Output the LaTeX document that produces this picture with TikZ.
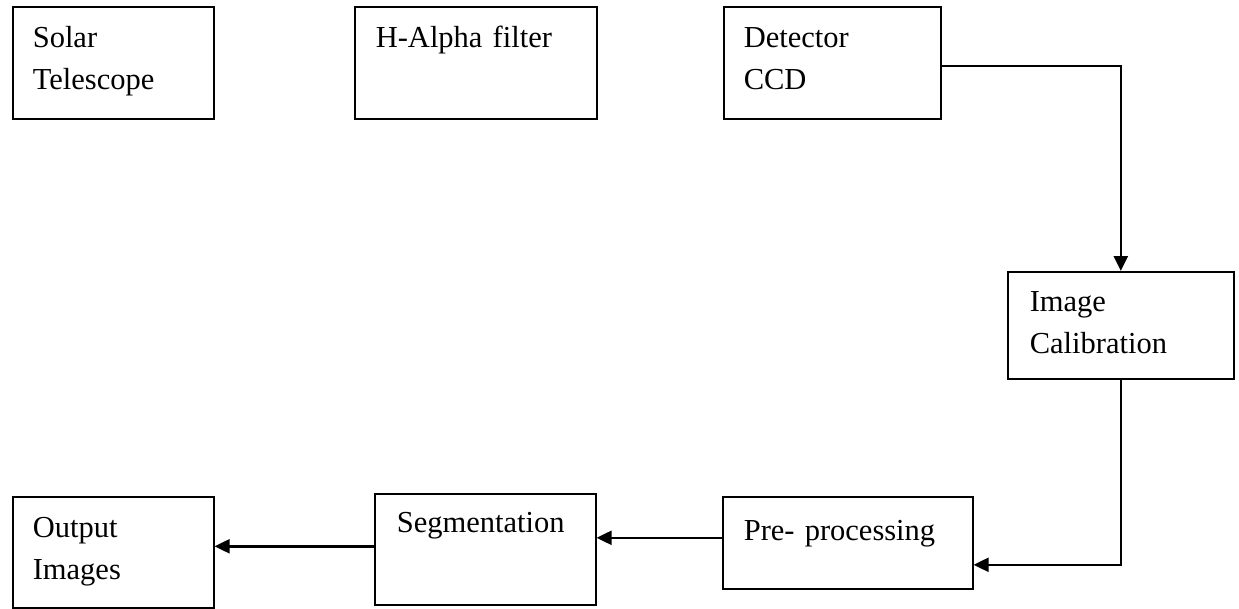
\documentclass[tikz,border=0pt]{standalone}
\usepackage{fontspec}
\setmainfont{Liberation Serif}
\usetikzlibrary{arrows.meta}
\begin{document}
\begin{tikzpicture}[x=1pt,y=-1pt,
    blk/.style={draw,line width=1.6pt,anchor=north west,align=left,
      inner ysep=0pt,font=\fontsize{30.5}{42}\selectfont},
    conn/.style={line width=2.4pt,-{Triangle[length=15pt,width=14pt]}}]
    \useasboundingbox (0,0) rectangle (1239,608);
    % top row
    \node[blk,inner xsep=20pt,text width=161pt,text height=41pt,text depth=71pt]
      (solar) at (12,6) {Solar\\Telescope};
    \node[blk,inner xsep=21pt,text width=200pt,text height=41pt,text depth=71pt]
      (halpha) at (354,6) {H-Alpha filter};
    \node[blk,inner xsep=20pt,text width=177pt,text height=41pt,text depth=71pt]
      (detector) at (723,6) {Detector\\CCD};
    % right column
    \node[blk,inner xsep=22pt,text width=182pt,text height=40pt,text depth=67pt]
      (calib) at (1007,271) {Image\\Calibration};
    % bottom row
    \node[blk,inner xsep=21pt,text width=208pt,text height=44pt,text depth=48pt]
      (pre) at (722,496) {Pre- processing};
    \node[blk,inner xsep=22pt,text width=177pt,text height=39pt,text depth=72pt]
      (seg) at (374,493) {Segmentation};
    \node[blk,inner xsep=20pt,text width=161pt,text height=41pt,text depth=70pt]
      (out) at (12,496) {Output\\Images};
    % connectors
    \draw[conn] ([yshift=-3pt]detector.east) -| (calib.north);
    \draw[conn] (calib.south) |- ([yshift=-22pt]pre.east);
    \draw[conn] ([yshift=5pt]pre.west) -- ([yshift=5pt]pre.west -| seg.east);
    \draw[conn] ([yshift=3pt]seg.west) -- ([yshift=3pt]seg.west -| out.east);
\end{tikzpicture}
\end{document}
